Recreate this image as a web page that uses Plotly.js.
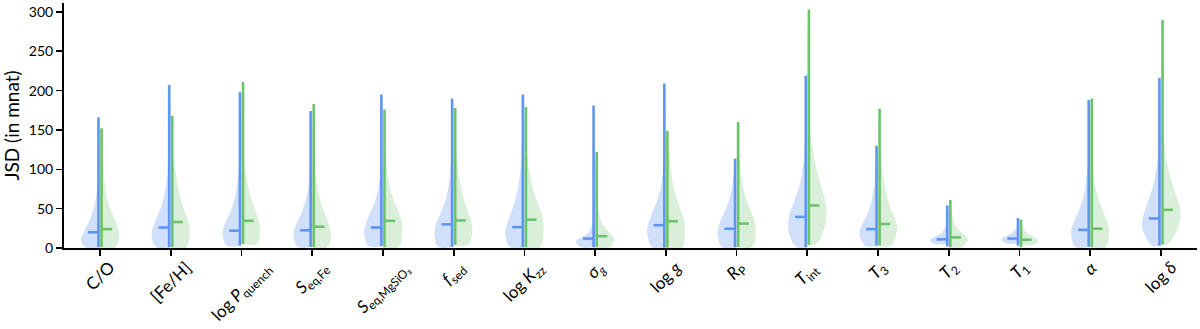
<!DOCTYPE html>
<html>
<head>
<meta charset="utf-8">
<script src="https://cdn.plot.ly/plotly-3.0.1.min.js"></script>
<style>
  html, body { margin: 0; padding: 0; background: #fff; }
  #plot { width: 1200px; height: 329px; }
</style>
</head>
<body>
<div id="plot"></div>
<script>
// Parameters (categories, left = blue run, right = green run)
const labels = [
  'C/O', '[Fe/H]', 'log <i>P</i><sub>quench</sub>', '<i>S</i><sub>eq,Fe</sub>',
  '<i>S</i><sub>eq,MgSiO₃</sub>', '<i>f</i><sub>sed</sub>', 'log <i>K</i><sub>zz</sub>',
  '<i>σ</i><sub><i>g</i></sub>', 'log <i>g</i>', '<i>R</i><sub>P</sub>', '<i>T</i><sub>int</sub>',
  '<i>T</i><sub>3</sub>', '<i>T</i><sub>2</sub>', '<i>T</i><sub>1</sub>', '<i>α</i>', 'log <i>δ</i>'
];

// min / max / median of JSD (mnat)
const blueMin = [1, 1, 3, 1.5, 2.5, 1.5, 1, 1, 0.5, 1, 1, 3, 2, 3, 1.5, 3];
const blueMax = [166, 207, 198, 174, 195, 190, 195, 181, 209, 113.5, 219, 130, 54, 38, 188, 216];
const blueMed = [20, 26, 22, 22.5, 26, 30, 26.5, 12, 29, 24.5, 39.5, 24, 11, 12, 23, 37.5];
const greenMin = [1, 1, 5, 1, 1, 4, 1, 1, 0.5, 1.5, 4, 3, 1, 1, 1, 4.5];
const greenMax = [152, 168, 211, 183, 176, 178, 179, 122, 149, 160, 303, 177, 61, 36, 190, 290];
const greenMed = [24, 33, 34.5, 27, 34.5, 35, 36, 15, 34, 31, 54, 30.5, 13.5, 10.5, 24.5, 48.5];

// density profiles: heights and relative half-widths
const blueProfileY = [
  [1, 10.6, 23.3, 36, 48.7, 65.7, 87, 108, 166],
  [1, 14.8, 27.5, 40.3, 53, 65.7, 87, 108, 207],
  [3, 16.9, 27.5, 40.3, 53, 65.7, 87, 108, 198],
  [1.5, 14.8, 27.5, 40.3, 53, 65.7, 87, 108, 174],
  [2.5, 19, 31.8, 44.5, 57.2, 74.2, 95.3, 116, 195],
  [1.5, 19, 31.8, 44.5, 57.2, 74.2, 95.3, 116.5, 190],
  [1, 19, 31.8, 44.5, 57.2, 74.2, 95.3, 116.5, 195],
  [1, 8.5, 12.7, 16.9, 23.3, 31.8, 44.5, 181],
  [0.5, 21.2, 33.9, 46.6, 59.3, 76.3, 97.5, 118.6, 209],
  [1, 19, 31.8, 44.5, 57.2, 74.2, 95.3, 113.5],
  [1, 14.8, 29.7, 44.5, 61.4, 78.4, 99.6, 125, 219],
  [3, 19, 29.7, 44.5, 57.2, 74.2, 95.3, 130],
  [5, 9.7, 14, 19, 25.4, 34, 54],
  [6, 11, 15.7, 19.9, 25.4, 38],
  [1.5, 21.2, 33.9, 48.7, 65.7, 87, 108, 188],
  [3, 14.8, 29.7, 44.5, 61.4, 78.4, 99.6, 125, 216]
];
const blueProfileW = [
  [0.75, 1.0, 0.79, 0.53, 0.35, 0.2, 0.12, 0.07, 0],
  [0.74, 1.0, 0.91, 0.7, 0.5, 0.35, 0.2, 0.12, 0],
  [0.77, 0.98, 0.91, 0.68, 0.47, 0.33, 0.19, 0.1, 0],
  [0.77, 0.98, 0.88, 0.63, 0.44, 0.28, 0.14, 0.07, 0],
  [0.75, 0.98, 0.88, 0.67, 0.44, 0.26, 0.14, 0.07, 0],
  [0.82, 1.0, 0.91, 0.68, 0.47, 0.3, 0.19, 0.12, 0],
  [0.75, 1.0, 0.89, 0.7, 0.53, 0.35, 0.23, 0.14, 0],
  [0.72, 1.0, 0.8, 0.46, 0.25, 0.14, 0.07, 0],
  [0.7, 0.98, 0.88, 0.68, 0.47, 0.28, 0.16, 0.09, 0],
  [0.75, 1.0, 0.88, 0.65, 0.44, 0.26, 0.14, 0],
  [0.56, 0.91, 1.0, 0.91, 0.65, 0.42, 0.25, 0.14, 0],
  [0.67, 0.98, 0.84, 0.54, 0.37, 0.23, 0.14, 0],
  [0.74, 1.0, 0.74, 0.39, 0.21, 0.12, 0],
  [0.67, 0.98, 0.67, 0.35, 0.18, 0],
  [0.79, 1.0, 0.84, 0.58, 0.35, 0.21, 0.12, 0],
  [0.47, 0.82, 1.0, 0.88, 0.65, 0.42, 0.25, 0.12, 0]
];
const greenProfileY = [
  [1, 14.8, 27.5, 40.3, 53, 65.7, 87, 108, 152],
  [1, 19, 31.8, 44.5, 57.2, 74.2, 95.3, 116.5, 138, 168],
  [5, 19, 31.8, 44.5, 57.2, 74.2, 95.3, 116.5, 211],
  [1, 14.8, 27.5, 40.3, 53, 70, 91, 112, 183],
  [1, 23.3, 36, 48.7, 61.4, 78.4, 99.6, 125, 176],
  [4, 23.3, 36, 48.7, 61.4, 78.4, 99.6, 125, 178],
  [1, 25.4, 38.1, 50.8, 63.6, 80.5, 101.7, 127, 179],
  [1, 11.4, 16.9, 23.3, 31.8, 44.5, 65.7, 122],
  [0.5, 23.3, 36, 48.7, 63.6, 80.5, 101.7, 125, 149],
  [1.5, 21.2, 33.9, 46.6, 59.3, 76.3, 97.5, 125, 160],
  [4, 14.8, 40.3, 53, 65.7, 82.6, 103.8, 129, 150, 303],
  [3, 23.3, 36, 48.7, 65.7, 87, 108, 177],
  [1, 11.4, 16.9, 23.3, 29.7, 40.3, 61],
  [4, 9.3, 14, 19, 25.4, 36],
  [1, 19, 31.8, 44.5, 61.4, 78.4, 99.6, 190],
  [4.5, 14.8, 36, 48.7, 65.7, 82.6, 103.8, 129, 150, 290]
];
const greenProfileW = [
  [0.8, 1.0, 0.9, 0.7, 0.49, 0.35, 0.23, 0.14, 0],
  [0.8, 1.0, 0.93, 0.75, 0.58, 0.4, 0.26, 0.14, 0.05, 0],
  [0.8, 0.98, 0.93, 0.77, 0.58, 0.39, 0.23, 0.1, 0],
  [0.77, 0.98, 0.91, 0.72, 0.51, 0.33, 0.21, 0.1, 0],
  [0.82, 1.0, 0.96, 0.77, 0.56, 0.35, 0.21, 0.1, 0],
  [0.75, 0.98, 0.9, 0.72, 0.53, 0.37, 0.23, 0.12, 0],
  [0.82, 1.0, 0.96, 0.79, 0.6, 0.39, 0.23, 0.12, 0],
  [0.77, 1.0, 0.86, 0.6, 0.37, 0.21, 0.12, 0],
  [0.84, 1.0, 0.95, 0.77, 0.56, 0.38, 0.26, 0.14, 0],
  [0.82, 1.0, 0.93, 0.75, 0.54, 0.35, 0.23, 0.12, 0],
  [0.4, 0.75, 1.0, 0.98, 0.88, 0.67, 0.44, 0.26, 0.15, 0],
  [0.65, 1.0, 0.91, 0.68, 0.47, 0.3, 0.18, 0],
  [0.67, 1.0, 0.84, 0.49, 0.32, 0.19, 0],
  [0.74, 1.0, 0.74, 0.39, 0.21, 0],
  [0.79, 1.0, 0.91, 0.7, 0.44, 0.26, 0.14, 0],
  [0.32, 0.67, 1.0, 1.0, 0.81, 0.58, 0.35, 0.18, 0.1, 0]
];

const blueLine = '#5f95f2';
const greenLine = '#6cc36c';
const blueFill = 'rgba(100,149,237,0.3)';
const greenFill = 'rgba(108,195,108,0.26)';
const halfWidth = 0.27;   // max half-width of a violin half (category units)
const lineOff = 0.022;    // offset of the range lines from centre
const medLen = 0.15;      // length of the median ticks

function halfViolin(i, ys, ws, side, fill) {
  const x = [i], y = [ys[0]];
  ys.forEach((v, k) => { x.push(i + side * ws[k] * halfWidth); y.push(v); });
  x.push(i); y.push(ys[ys.length - 1]);
  return {
    x: x, y: y, type: 'scatter', mode: 'lines', fill: 'toself',
    fillcolor: fill, line: {width: 0, shape: 'spline', smoothing: 1},
    hoverinfo: 'skip', showlegend: false
  };
}

function segments(xa, xb, ya, yb) {
  const x = [], y = [];
  for (let k = 0; k < xa.length; k++) {
    x.push(xa[k], xb[k], null);
    y.push(ya[k], yb[k], null);
  }
  return {x, y};
}

const idx = labels.map((v, k) => k);
const traces = [];

idx.forEach(i => {
  traces.push(halfViolin(i, blueProfileY[i], blueProfileW[i], -1, blueFill));
  traces.push(halfViolin(i, greenProfileY[i], greenProfileW[i], 1, greenFill));
});

// min-max range lines
const bl = segments(idx.map(i => i - lineOff), idx.map(i => i - lineOff), blueMin, blueMax);
const gl = segments(idx.map(i => i + lineOff), idx.map(i => i + lineOff), greenMin, greenMax);
traces.push({x: bl.x, y: bl.y, mode: 'lines', line: {color: blueLine, width: 2.6}, showlegend: false});
traces.push({x: gl.x, y: gl.y, mode: 'lines', line: {color: greenLine, width: 2.6}, showlegend: false});

// median ticks
const bm = segments(idx.map(i => i - lineOff - medLen), idx.map(i => i - lineOff), blueMed, blueMed);
const gm = segments(idx.map(i => i + lineOff), idx.map(i => i + lineOff + medLen), greenMed, greenMed);
traces.push({x: bm.x, y: bm.y, mode: 'lines', line: {color: blueLine, width: 2.6}, showlegend: false});
traces.push({x: gm.x, y: gm.y, mode: 'lines', line: {color: greenLine, width: 2.6}, showlegend: false});

// rotated category labels, centred under each tick
const tickLabels = idx.map(i => ({
  x: i, xref: 'x', y: 0, yref: 'paper',
  text: labels[i], showarrow: false, textangle: -45,
  xanchor: 'center', yanchor: 'top', yshift: -6,
  font: {size: 17}
}));

const layout = {
  width: 1200,
  height: 329,
  margin: {l: 64, r: 3, t: 3, b: 81},
  paper_bgcolor: '#fff',
  plot_bgcolor: '#fff',
  font: {family: 'Lato, "Open Sans", sans-serif', color: '#000'},
  showlegend: false,
  annotations: tickLabels,
  xaxis: {
    range: [-0.509, 15.509],
    tickmode: 'array',
    tickvals: idx,
    showticklabels: false,
    showgrid: false, zeroline: false,
    showline: true, linecolor: '#000', linewidth: 2,
    ticks: 'outside', ticklen: 6, tickwidth: 1.8, tickcolor: '#000'
  },
  yaxis: {
    range: [0, 311.3],
    tickvals: [0, 50, 100, 150, 200, 250, 300],
    tickfont: {size: 14},
    title: {text: 'JSD (in mnat)', font: {size: 19}, standoff: 6},
    showgrid: false, zeroline: false,
    showline: true, linecolor: '#000', linewidth: 2,
    ticks: 'outside', ticklen: 6, tickwidth: 1.5, tickcolor: '#000'
  }
};

Plotly.newPlot('plot', traces, layout, {staticPlot: true});
</script>
</body>
</html>
